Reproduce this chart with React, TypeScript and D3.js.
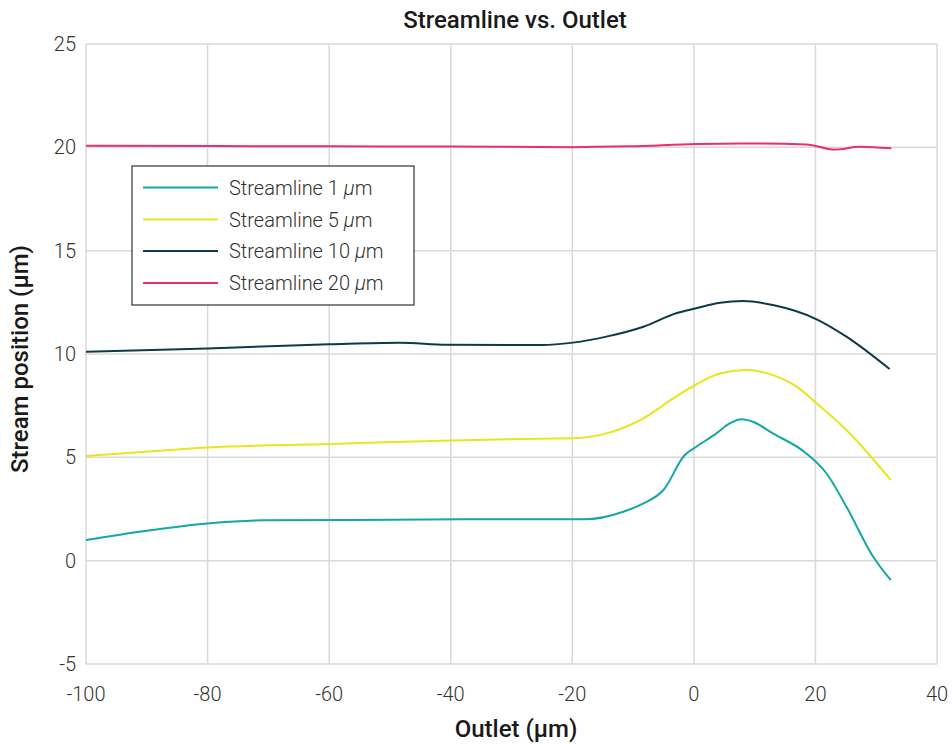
import React, { useEffect, useRef } from "react";
import * as d3 from "d3";

const W = 952;
const H = 744;

const xTicks = [-100, -80, -60, -40, -20, 0, 20, 40];
const yTicks = [-5, 0, 5, 10, 15, 20, 25];

const seriesNames = ["Streamline 1 ", "Streamline 5 ", "Streamline 10 ", "Streamline 20 "];
const seriesColors = ["#15a6a8", "#e9e51c", "#0c3a4b", "#ee2d6e"];

const streamline1 = [
  [-100, 1.0], [-90, 1.45], [-80, 1.8], [-71, 1.95], [-50, 1.98], [-25, 2.01], [-18, 2.0],
  [-11.6, 2.37], [-8.3, 2.77], [-5, 3.42], [-1.5, 5.11], [0.4, 5.51], [3.7, 6.16],
  [5.9, 6.64], [7.8, 6.84], [9.7, 6.72], [13, 6.16], [18.5, 5.19], [21.8, 4.23],
  [25.1, 2.61], [29.5, 0.19], [32.4, -0.94],
];
const streamline5 = [
  [-100, 5.06], [-81, 5.46], [-80, 5.48], [-60, 5.64], [-40, 5.82], [-25, 5.9], [-20, 5.92],
  [-14.4, 6.16], [-8.3, 6.89], [-3.4, 7.85], [0.2, 8.5], [4.3, 9.06], [8.7, 9.22],
  [13, 8.98], [16.9, 8.42], [20.2, 7.61], [25.1, 6.32], [32.4, 3.9],
];
const streamline10 = [
  [-100, 10.11], [-80, 10.27], [-60, 10.47], [-48.4, 10.55], [-40.7, 10.45], [-25, 10.43],
  [-19.9, 10.55], [-14.4, 10.84], [-8.3, 11.32], [-2.9, 11.97], [0.2, 12.2], [4.3, 12.48],
  [8.1, 12.56], [13, 12.37], [20.2, 11.68], [25.1, 10.84], [32.2, 9.27],
];
const streamline20 = [
  [-100, 20.08], [-60, 20.05], [-40, 20.04], [-20, 20.01], [-10.5, 20.05], [0.4, 20.16],
  [7.6, 20.19], [18.5, 20.14], [23.2, 19.89], [27.3, 20.03], [32.5, 19.95],
];

const allSeries = [streamline1, streamline5, streamline10, streamline20];

const App = () => {
  const ref = useRef<SVGSVGElement>(null);

  useEffect(() => {
    const svg = d3.select(ref.current);
    svg.selectAll("*").remove();

    const left = 86, right = 937, top = 44, bottom = 664;
    const font = "Roboto, 'Noto Sans', sans-serif";

    const x = d3.scaleLinear().domain([-100, 40]).range([left, right]);
    const y = d3.scaleLinear().domain([-5, 25]).range([bottom, top]);

    // grid
    const grid = svg.append("g");
    grid.selectAll(".gx").data(xTicks).enter().append("line")
      .attr("x1", d => x(d)).attr("x2", d => x(d))
      .attr("y1", top).attr("y2", bottom)
      .attr("stroke", "#d9d9d9").attr("stroke-width", 1.5);
    grid.selectAll(".gy").data(yTicks).enter().append("line")
      .attr("x1", left).attr("x2", right)
      .attr("y1", d => y(d)).attr("y2", d => y(d))
      .attr("stroke", "#d9d9d9").attr("stroke-width", 1.5);

    // tick labels
    svg.append("g").selectAll("text").data(xTicks).enter().append("text")
      .attr("x", d => x(d)).attr("y", bottom + 37)
      .attr("text-anchor", "middle")
      .attr("font-family", font).attr("font-weight", 300).attr("font-size", 20)
      .attr("fill", "#333")
      .text(d => d);
    svg.append("g").selectAll("text").data(yTicks).enter().append("text")
      .attr("x", left - 10).attr("y", d => y(d) + 7)
      .attr("text-anchor", "end")
      .attr("font-family", font).attr("font-weight", 300).attr("font-size", 20)
      .attr("fill", "#333")
      .text(d => d);

    // lines
    const line = d3.line<number[]>()
      .x(d => x(d[0])).y(d => y(d[1]))
      .curve(d3.curveMonotoneX);
    allSeries.forEach((s, i) => {
      svg.append("path")
        .datum(s)
        .attr("d", line)
        .attr("fill", "none")
        .attr("stroke", seriesColors[i])
        .attr("stroke-width", 2);
    });

    // titles
    svg.append("text")
      .attr("x", 515).attr("y", 28)
      .attr("text-anchor", "middle")
      .attr("font-family", font).attr("font-weight", 500).attr("font-size", 24)
      .attr("fill", "#1a1a1a")
      .text("Streamline vs. Outlet");
    svg.append("text")
      .attr("x", 516).attr("y", 737)
      .attr("text-anchor", "middle")
      .attr("font-family", font).attr("font-weight", 500).attr("font-size", 24)
      .attr("fill", "#1a1a1a")
      .text("Outlet (µm)");
    svg.append("text")
      .attr("transform", "translate(28,359) rotate(-90)")
      .attr("text-anchor", "middle")
      .attr("font-family", font).attr("font-weight", 500).attr("font-size", 24)
      .attr("fill", "#1a1a1a")
      .text("Stream position (µm)");

    // legend
    const lg = svg.append("g");
    lg.append("rect")
      .attr("x", 132).attr("y", 166).attr("width", 282).attr("height", 139)
      .attr("fill", "#fff").attr("stroke", "#333").attr("stroke-width", 1.2);
    const rowY = [187.5, 219.5, 251, 283];
    seriesNames.forEach((name, i) => {
      lg.append("line")
        .attr("x1", 143).attr("x2", 218)
        .attr("y1", rowY[i]).attr("y2", rowY[i])
        .attr("stroke", seriesColors[i]).attr("stroke-width", 2);
      const t = lg.append("text")
        .attr("x", 229).attr("y", rowY[i] + 7)
        .attr("font-family", font).attr("font-weight", 300).attr("font-size", 20)
        .attr("fill", "#333");
      t.append("tspan").text(name);
      t.append("tspan").attr("font-style", "italic").text("μ");
      t.append("tspan").text("m");
    });
  }, []);

  return (
    <svg
      ref={ref}
      width={W}
      height={H}
      style={{ position: "absolute", left: 0, top: 0, background: "#fff" }}
    ></svg>
  );
};

export default App;
